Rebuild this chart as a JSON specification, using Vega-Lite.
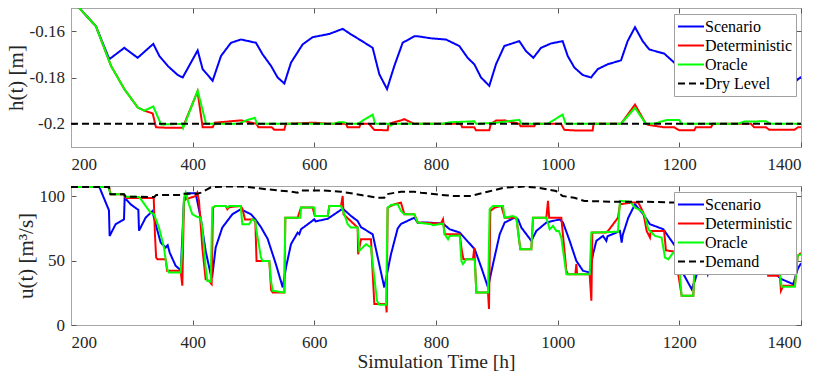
{
  "$schema": "https://vega.github.io/schema/vega-lite/v6.json",
  "padding": {"left": 4, "top": -5, "right": 0, "bottom": 0},
  "bounds": "flush",
  "spacing": 39,
  "background": "white",
  "config": {
    "view": {"stroke": "#a6a6a6", "strokeWidth": 1},
    "font": "Liberation Serif",
    "axis": {"labelFont": "Liberation Serif", "labelFontSize": 17, "labelColor": "#262626", "titleFont": "Liberation Serif", "titleFontWeight": "normal", "titleColor": "#262626", "domainColor": "#a6a6a6", "tickColor": "#595959", "tickSize": -5, "grid": false, "format": "d"},
    "axisX": {"labelPadding": 14.4, "titleFontSize": 19.5, "titlePadding": 2},
    "axisY": {"labelPadding": 11.5, "titleFontSize": 21, "titlePadding": 3},
    "axisTop": {"labelPadding": 0, "labelFontSize": 0, "minExtent": 0, "maxExtent": 0},
    "axisRight": {"labelPadding": 0, "labelFontSize": 0, "minExtent": 0, "maxExtent": 0},
    "legend": {"orient": "none", "title": null, "labelFont": "Liberation Serif", "labelFontSize": 16, "labelColor": "#000000", "symbolType": "stroke", "symbolSize": 676, "symbolStrokeWidth": 2, "clipHeight": 19, "rowPadding": 0, "padding": 3, "labelOffset": 0, "strokeColor": "#a0a0a0", "fillColor": "#ffffff"}
  },
  "resolve": {"scale": {"color": "independent", "strokeDash": "independent"}},
  "datasets": {
    "h": [
      {"s":"Scenario","t":200,"v":-0.146},{"s":"Scenario","t":213.7,"v":-0.15},{"s":"Scenario","t":241,"v":-0.1579},{"s":"Scenario","t":263,"v":-0.1721},{"s":"Scenario","t":287.6,"v":-0.1672},{"s":"Scenario","t":309.6,"v":-0.1715},{"s":"Scenario","t":335.3,"v":-0.1655},{"s":"Scenario","t":345.2,"v":-0.1707},{"s":"Scenario","t":359,"v":-0.175},{"s":"Scenario","t":375.3,"v":-0.1789},{"s":"Scenario","t":383.6,"v":-0.18},{"s":"Scenario","t":408.2,"v":-0.1683},{"s":"Scenario","t":416.4,"v":-0.1764},{"s":"Scenario","t":432.8,"v":-0.1814},{"s":"Scenario","t":446.6,"v":-0.1707},{"s":"Scenario","t":463,"v":-0.165},{"s":"Scenario","t":479.4,"v":-0.1636},{"s":"Scenario","t":504,"v":-0.165},{"s":"Scenario","t":515,"v":-0.17},{"s":"Scenario","t":528.8,"v":-0.175},{"s":"Scenario","t":539.7,"v":-0.18},{"s":"Scenario","t":550.7,"v":-0.1826},{"s":"Scenario","t":561.6,"v":-0.1736},{"s":"Scenario","t":580.8,"v":-0.1657},{"s":"Scenario","t":597.2,"v":-0.1626},{"s":"Scenario","t":624.6,"v":-0.1612},{"s":"Scenario","t":646.6,"v":-0.159},{"s":"Scenario","t":660.3,"v":-0.1614},{"s":"Scenario","t":676.7,"v":-0.164},{"s":"Scenario","t":695.9,"v":-0.1672},{"s":"Scenario","t":706.8,"v":-0.1786},{"s":"Scenario","t":719.5,"v":-0.185},{"s":"Scenario","t":731.5,"v":-0.175},{"s":"Scenario","t":745.2,"v":-0.165},{"s":"Scenario","t":764.3,"v":-0.1622},{"s":"Scenario","t":769.9,"v":-0.1622},{"s":"Scenario","t":791.8,"v":-0.1631},{"s":"Scenario","t":816.4,"v":-0.1636},{"s":"Scenario","t":838.3,"v":-0.1664},{"s":"Scenario","t":852,"v":-0.1715},{"s":"Scenario","t":863,"v":-0.1743},{"s":"Scenario","t":874,"v":-0.18},{"s":"Scenario","t":887.6,"v":-0.1836},{"s":"Scenario","t":898.6,"v":-0.1743},{"s":"Scenario","t":912.3,"v":-0.1664},{"s":"Scenario","t":936.9,"v":-0.1643},{"s":"Scenario","t":947.9,"v":-0.1686},{"s":"Scenario","t":960,"v":-0.1715},{"s":"Scenario","t":972.6,"v":-0.1672},{"s":"Scenario","t":989,"v":-0.1653},{"s":"Scenario","t":1008.2,"v":-0.1643},{"s":"Scenario","t":1016.5,"v":-0.1707},{"s":"Scenario","t":1027.4,"v":-0.1757},{"s":"Scenario","t":1041.1,"v":-0.1789},{"s":"Scenario","t":1054.8,"v":-0.18},{"s":"Scenario","t":1065.8,"v":-0.1764},{"s":"Scenario","t":1082.2,"v":-0.1743},{"s":"Scenario","t":1104.1,"v":-0.1726},{"s":"Scenario","t":1115,"v":-0.1643},{"s":"Scenario","t":1127.1,"v":-0.1583},{"s":"Scenario","t":1139.7,"v":-0.1643},{"s":"Scenario","t":1150.6,"v":-0.1679},{"s":"Scenario","t":1175.3,"v":-0.1697},{"s":"Scenario","t":1191.7,"v":-0.1736},{"s":"Scenario","t":1215,"v":-0.178},{"s":"Scenario","t":1240,"v":-0.17},{"s":"Scenario","t":1270,"v":-0.166},{"s":"Scenario","t":1300,"v":-0.172},{"s":"Scenario","t":1330,"v":-0.168},{"s":"Scenario","t":1360,"v":-0.176},{"s":"Scenario","t":1389,"v":-0.1822},{"s":"Scenario","t":1400,"v":-0.1797},
      {"s":"Deterministic","t":200,"v":-0.146},{"s":"Deterministic","t":213.7,"v":-0.15},{"s":"Deterministic","t":241,"v":-0.1579},{"s":"Deterministic","t":265.8,"v":-0.175},{"s":"Deterministic","t":287.7,"v":-0.185},{"s":"Deterministic","t":309.6,"v":-0.1929},{"s":"Deterministic","t":320.5,"v":-0.1943},{"s":"Deterministic","t":334.3,"v":-0.1955},{"s":"Deterministic","t":339.7,"v":-0.2015},{"s":"Deterministic","t":359,"v":-0.2017},{"s":"Deterministic","t":383.6,"v":-0.2017},{"s":"Deterministic","t":408,"v":-0.186},{"s":"Deterministic","t":416.4,"v":-0.2015},{"s":"Deterministic","t":433,"v":-0.2015},{"s":"Deterministic","t":436,"v":-0.1995},{"s":"Deterministic","t":480,"v":-0.1985},{"s":"Deterministic","t":505,"v":-0.2},{"s":"Deterministic","t":508,"v":-0.2015},{"s":"Deterministic","t":530,"v":-0.2015},{"s":"Deterministic","t":534.2,"v":-0.2026},{"s":"Deterministic","t":550.7,"v":-0.2026},{"s":"Deterministic","t":553,"v":-0.2},{"s":"Deterministic","t":580,"v":-0.1997},{"s":"Deterministic","t":600,"v":-0.1995},{"s":"Deterministic","t":624,"v":-0.2},{"s":"Deterministic","t":652,"v":-0.2},{"s":"Deterministic","t":654.7,"v":-0.2015},{"s":"Deterministic","t":673.9,"v":-0.2015},{"s":"Deterministic","t":676,"v":-0.2},{"s":"Deterministic","t":690,"v":-0.2},{"s":"Deterministic","t":698.6,"v":-0.2026},{"s":"Deterministic","t":720.6,"v":-0.2028},{"s":"Deterministic","t":722,"v":-0.2},{"s":"Deterministic","t":742.5,"v":-0.1985},{"s":"Deterministic","t":748,"v":-0.198},{"s":"Deterministic","t":764,"v":-0.2},{"s":"Deterministic","t":841,"v":-0.2},{"s":"Deterministic","t":843,"v":-0.2015},{"s":"Deterministic","t":863,"v":-0.2015},{"s":"Deterministic","t":865.7,"v":-0.2028},{"s":"Deterministic","t":887.6,"v":-0.2028},{"s":"Deterministic","t":890,"v":-0.2},{"s":"Deterministic","t":898.6,"v":-0.1986},{"s":"Deterministic","t":912,"v":-0.1985},{"s":"Deterministic","t":937,"v":-0.2},{"s":"Deterministic","t":939,"v":-0.201},{"s":"Deterministic","t":961.6,"v":-0.201},{"s":"Deterministic","t":964,"v":-0.2},{"s":"Deterministic","t":1005.5,"v":-0.2},{"s":"Deterministic","t":1011,"v":-0.2026},{"s":"Deterministic","t":1032.8,"v":-0.2029},{"s":"Deterministic","t":1057.5,"v":-0.2029},{"s":"Deterministic","t":1059,"v":-0.2},{"s":"Deterministic","t":1104.1,"v":-0.2},{"s":"Deterministic","t":1127.1,"v":-0.1917},{"s":"Deterministic","t":1145,"v":-0.2},{"s":"Deterministic","t":1150,"v":-0.2005},{"s":"Deterministic","t":1175.3,"v":-0.2015},{"s":"Deterministic","t":1191.7,"v":-0.2015},{"s":"Deterministic","t":1200,"v":-0.2028},{"s":"Deterministic","t":1224.6,"v":-0.2028},{"s":"Deterministic","t":1227,"v":-0.2015},{"s":"Deterministic","t":1252,"v":-0.2015},{"s":"Deterministic","t":1255,"v":-0.2},{"s":"Deterministic","t":1317.8,"v":-0.2},{"s":"Deterministic","t":1323,"v":-0.2015},{"s":"Deterministic","t":1342.5,"v":-0.2015},{"s":"Deterministic","t":1348,"v":-0.2026},{"s":"Deterministic","t":1389,"v":-0.2026},{"s":"Deterministic","t":1395,"v":-0.2015},{"s":"Deterministic","t":1400,"v":-0.2015},
      {"s":"Oracle","t":200,"v":-0.146},{"s":"Oracle","t":213.7,"v":-0.15},{"s":"Oracle","t":241,"v":-0.1579},{"s":"Oracle","t":265.8,"v":-0.175},{"s":"Oracle","t":287.7,"v":-0.185},{"s":"Oracle","t":309.6,"v":-0.1929},{"s":"Oracle","t":320.5,"v":-0.1943},{"s":"Oracle","t":335.3,"v":-0.1925},{"s":"Oracle","t":348,"v":-0.2003},{"s":"Oracle","t":383,"v":-0.2},{"s":"Oracle","t":384.5,"v":-0.2017},{"s":"Oracle","t":408.3,"v":-0.1857},{"s":"Oracle","t":422,"v":-0.2},{"s":"Oracle","t":476,"v":-0.2},{"s":"Oracle","t":488,"v":-0.1985},{"s":"Oracle","t":502,"v":-0.1974},{"s":"Oracle","t":506,"v":-0.2},{"s":"Oracle","t":632,"v":-0.2},{"s":"Oracle","t":640,"v":-0.1993},{"s":"Oracle","t":649,"v":-0.1993},{"s":"Oracle","t":655,"v":-0.2},{"s":"Oracle","t":672,"v":-0.2},{"s":"Oracle","t":680,"v":-0.1985},{"s":"Oracle","t":695.9,"v":-0.196},{"s":"Oracle","t":700,"v":-0.2},{"s":"Oracle","t":722,"v":-0.2},{"s":"Oracle","t":725,"v":-0.2008},{"s":"Oracle","t":730,"v":-0.2},{"s":"Oracle","t":810,"v":-0.2},{"s":"Oracle","t":824.6,"v":-0.1993},{"s":"Oracle","t":863,"v":-0.1989},{"s":"Oracle","t":866,"v":-0.2},{"s":"Oracle","t":900,"v":-0.1995},{"s":"Oracle","t":920,"v":-0.1988},{"s":"Oracle","t":936.9,"v":-0.1983},{"s":"Oracle","t":940,"v":-0.2},{"s":"Oracle","t":983.5,"v":-0.2},{"s":"Oracle","t":1008.2,"v":-0.196},{"s":"Oracle","t":1013,"v":-0.2},{"s":"Oracle","t":1104,"v":-0.2},{"s":"Oracle","t":1127.1,"v":-0.1931},{"s":"Oracle","t":1145,"v":-0.2},{"s":"Oracle","t":1160,"v":-0.1998},{"s":"Oracle","t":1180,"v":-0.1983},{"s":"Oracle","t":1200,"v":-0.1983},{"s":"Oracle","t":1203,"v":-0.2},{"s":"Oracle","t":1296,"v":-0.2},{"s":"Oracle","t":1306.8,"v":-0.199},{"s":"Oracle","t":1342.5,"v":-0.1989},{"s":"Oracle","t":1350,"v":-0.2},{"s":"Oracle","t":1400,"v":-0.2},
      {"s":"Dry Level","t":200,"v":-0.2},{"s":"Dry Level","t":1400,"v":-0.2}
    ],
    "u": [
      {"s":"Scenario","t":200,"v":107.2},{"s":"Scenario","t":246.6,"v":107.2},{"s":"Scenario","t":262.4,"v":89.1},{"s":"Scenario","t":263.5,"v":69.2},{"s":"Scenario","t":273.4,"v":78.3},{"s":"Scenario","t":287.1,"v":82.1},{"s":"Scenario","t":288.2,"v":98.9},{"s":"Scenario","t":298,"v":93.8},{"s":"Scenario","t":310.7,"v":89.4},{"s":"Scenario","t":311.8,"v":73.3},{"s":"Scenario","t":322.7,"v":83.4},{"s":"Scenario","t":333.7,"v":88.5},{"s":"Scenario","t":339.2,"v":78.3},{"s":"Scenario","t":347.4,"v":64.1},{"s":"Scenario","t":355.6,"v":60.2},{"s":"Scenario","t":359,"v":62},{"s":"Scenario","t":362.2,"v":56.3},{"s":"Scenario","t":372,"v":46},{"s":"Scenario","t":380.5,"v":42.6},{"s":"Scenario","t":385.7,"v":96.4},{"s":"Scenario","t":391.2,"v":102.4},{"s":"Scenario","t":404.9,"v":102.4},{"s":"Scenario","t":413.1,"v":83.4},{"s":"Scenario","t":421.3,"v":57.6},{"s":"Scenario","t":429.6,"v":39.5},{"s":"Scenario","t":432.3,"v":38.2},{"s":"Scenario","t":437.8,"v":60.2},{"s":"Scenario","t":448.7,"v":75.7},{"s":"Scenario","t":465.2,"v":86},{"s":"Scenario","t":478.9,"v":89.9},{"s":"Scenario","t":496,"v":86},{"s":"Scenario","t":504,"v":81.5},{"s":"Scenario","t":512.3,"v":76},{"s":"Scenario","t":523.2,"v":67},{"s":"Scenario","t":537,"v":47},{"s":"Scenario","t":548,"v":29.2},{"s":"Scenario","t":553.4,"v":44.7},{"s":"Scenario","t":561.6,"v":62.8},{"s":"Scenario","t":572.6,"v":71.8},{"s":"Scenario","t":575.3,"v":70.5},{"s":"Scenario","t":578.1,"v":74.4},{"s":"Scenario","t":600,"v":82.1},{"s":"Scenario","t":602,"v":80.5},{"s":"Scenario","t":621.9,"v":82.5},{"s":"Scenario","t":643.8,"v":89.5},{"s":"Scenario","t":648,"v":89.9},{"s":"Scenario","t":660.3,"v":84.7},{"s":"Scenario","t":671.2,"v":80.8},{"s":"Scenario","t":676.7,"v":76},{"s":"Scenario","t":695.9,"v":70.5},{"s":"Scenario","t":715,"v":29.2},{"s":"Scenario","t":726,"v":55},{"s":"Scenario","t":737,"v":75},{"s":"Scenario","t":742.4,"v":78.5},{"s":"Scenario","t":764.4,"v":83.4},{"s":"Scenario","t":769.9,"v":79.5},{"s":"Scenario","t":786.3,"v":79.6},{"s":"Scenario","t":811.5,"v":78.8},{"s":"Scenario","t":822.5,"v":74.4},{"s":"Scenario","t":839,"v":71.8},{"s":"Scenario","t":863.6,"v":58.9},{"s":"Scenario","t":874.5,"v":44.7},{"s":"Scenario","t":882.8,"v":33},{"s":"Scenario","t":885.5,"v":29.2},{"s":"Scenario","t":893.7,"v":47.3},{"s":"Scenario","t":904.7,"v":70.5},{"s":"Scenario","t":912.9,"v":79.6},{"s":"Scenario","t":929.3,"v":83.4},{"s":"Scenario","t":935,"v":82},{"s":"Scenario","t":940.3,"v":75.7},{"s":"Scenario","t":956.7,"v":65.4},{"s":"Scenario","t":965,"v":73.1},{"s":"Scenario","t":981.4,"v":79.6},{"s":"Scenario","t":1003.3,"v":82.1},{"s":"Scenario","t":1008.8,"v":79.6},{"s":"Scenario","t":1019.7,"v":65.4},{"s":"Scenario","t":1030.7,"v":49.8},{"s":"Scenario","t":1041.7,"v":42.1},{"s":"Scenario","t":1052.6,"v":40.8},{"s":"Scenario","t":1058.1,"v":55},{"s":"Scenario","t":1063.6,"v":65.4},{"s":"Scenario","t":1074.5,"v":69.2},{"s":"Scenario","t":1080,"v":65.4},{"s":"Scenario","t":1082,"v":69},{"s":"Scenario","t":1096.5,"v":71.8},{"s":"Scenario","t":1102.4,"v":73.1},{"s":"Scenario","t":1105.2,"v":64.1},{"s":"Scenario","t":1107,"v":70},{"s":"Scenario","t":1116.1,"v":83.4},{"s":"Scenario","t":1127.1,"v":93.8},{"s":"Scenario","t":1140.8,"v":86},{"s":"Scenario","t":1151.7,"v":78.3},{"s":"Scenario","t":1173.7,"v":74.4},{"s":"Scenario","t":1192.8,"v":61.5},{"s":"Scenario","t":1203.8,"v":42.1},{"s":"Scenario","t":1220.2,"v":27.9},{"s":"Scenario","t":1226,"v":35},{"s":"Scenario","t":1236,"v":52},{"s":"Scenario","t":1246.5,"v":39.5},{"s":"Scenario","t":1252,"v":52},{"s":"Scenario","t":1290,"v":70},{"s":"Scenario","t":1330,"v":62},{"s":"Scenario","t":1352,"v":42.1},{"s":"Scenario","t":1368.2,"v":35.6},{"s":"Scenario","t":1387.3,"v":31.7},{"s":"Scenario","t":1394.5,"v":43.4},{"s":"Scenario","t":1400,"v":48},
      {"s":"Deterministic","t":200,"v":107.2},{"s":"Deterministic","t":262.5,"v":107.2},{"s":"Deterministic","t":265,"v":101.5},{"s":"Deterministic","t":287,"v":101.5},{"s":"Deterministic","t":290,"v":98.6},{"s":"Deterministic","t":336,"v":98.6},{"s":"Deterministic","t":338,"v":70},{"s":"Deterministic","t":340,"v":52.4},{"s":"Deterministic","t":342,"v":51.1},{"s":"Deterministic","t":355.6,"v":51.1},{"s":"Deterministic","t":358,"v":42.1},{"s":"Deterministic","t":380.3,"v":42.1},{"s":"Deterministic","t":383,"v":30.5},{"s":"Deterministic","t":385.7,"v":96.4},{"s":"Deterministic","t":388.5,"v":97.6},{"s":"Deterministic","t":404.9,"v":100.2},{"s":"Deterministic","t":407.6,"v":102.8},{"s":"Deterministic","t":410.4,"v":96.4},{"s":"Deterministic","t":415.9,"v":60.2},{"s":"Deterministic","t":421.3,"v":35.6},{"s":"Deterministic","t":426.8,"v":34.3},{"s":"Deterministic","t":431.2,"v":31.8},{"s":"Deterministic","t":433.4,"v":91.2},{"s":"Deterministic","t":437.8,"v":92.5},{"s":"Deterministic","t":454.2,"v":92.5},{"s":"Deterministic","t":457,"v":89.9},{"s":"Deterministic","t":460,"v":91.5},{"s":"Deterministic","t":478.9,"v":92.5},{"s":"Deterministic","t":482,"v":90},{"s":"Deterministic","t":486,"v":82},{"s":"Deterministic","t":500,"v":82},{"s":"Deterministic","t":503,"v":80},{"s":"Deterministic","t":505,"v":49.8},{"s":"Deterministic","t":526,"v":49.8},{"s":"Deterministic","t":529,"v":27},{"s":"Deterministic","t":531.5,"v":25.3},{"s":"Deterministic","t":550.7,"v":25.3},{"s":"Deterministic","t":552.3,"v":83.4},{"s":"Deterministic","t":572.6,"v":83.4},{"s":"Deterministic","t":578.1,"v":91.2},{"s":"Deterministic","t":597.3,"v":91.2},{"s":"Deterministic","t":600,"v":86},{"s":"Deterministic","t":601,"v":84.7},{"s":"Deterministic","t":622,"v":84.7},{"s":"Deterministic","t":624.7,"v":92.5},{"s":"Deterministic","t":643.8,"v":92.5},{"s":"Deterministic","t":646.6,"v":100.2},{"s":"Deterministic","t":648,"v":86},{"s":"Deterministic","t":671.2,"v":75.7},{"s":"Deterministic","t":672,"v":55},{"s":"Deterministic","t":676.7,"v":66.6},{"s":"Deterministic","t":693.1,"v":66.6},{"s":"Deterministic","t":698.6,"v":16.3},{"s":"Deterministic","t":717.8,"v":16.3},{"s":"Deterministic","t":718.9,"v":9.8},{"s":"Deterministic","t":720.5,"v":91.2},{"s":"Deterministic","t":731.5,"v":93.8},{"s":"Deterministic","t":742.4,"v":95.1},{"s":"Deterministic","t":748,"v":86},{"s":"Deterministic","t":764.4,"v":86},{"s":"Deterministic","t":769.9,"v":79.6},{"s":"Deterministic","t":808.2,"v":78.8},{"s":"Deterministic","t":811.5,"v":82.1},{"s":"Deterministic","t":814.3,"v":70.5},{"s":"Deterministic","t":839,"v":70.5},{"s":"Deterministic","t":841.7,"v":60},{"s":"Deterministic","t":845,"v":51.1},{"s":"Deterministic","t":860.8,"v":51.1},{"s":"Deterministic","t":863,"v":60},{"s":"Deterministic","t":866.3,"v":25.3},{"s":"Deterministic","t":885.5,"v":25.3},{"s":"Deterministic","t":887.1,"v":12.4},{"s":"Deterministic","t":889.3,"v":88.6},{"s":"Deterministic","t":896.5,"v":91.2},{"s":"Deterministic","t":907.4,"v":92.5},{"s":"Deterministic","t":912.9,"v":83.4},{"s":"Deterministic","t":932.1,"v":83.4},{"s":"Deterministic","t":938.6,"v":58.9},{"s":"Deterministic","t":956.7,"v":58.9},{"s":"Deterministic","t":959.5,"v":83.4},{"s":"Deterministic","t":981.4,"v":83.4},{"s":"Deterministic","t":984.1,"v":96.4},{"s":"Deterministic","t":986,"v":83.4},{"s":"Deterministic","t":1006,"v":83.4},{"s":"Deterministic","t":1014.3,"v":42.1},{"s":"Deterministic","t":1017,"v":39.5},{"s":"Deterministic","t":1029,"v":39.5},{"s":"Deterministic","t":1030.7,"v":47.3},{"s":"Deterministic","t":1032,"v":39.5},{"s":"Deterministic","t":1052.6,"v":39.5},{"s":"Deterministic","t":1055.4,"v":18.8},{"s":"Deterministic","t":1057,"v":71.8},{"s":"Deterministic","t":1080,"v":71.8},{"s":"Deterministic","t":1085,"v":74.4},{"s":"Deterministic","t":1099.2,"v":83.4},{"s":"Deterministic","t":1102.4,"v":93.8},{"s":"Deterministic","t":1121.6,"v":95.1},{"s":"Deterministic","t":1132.6,"v":95.1},{"s":"Deterministic","t":1140.8,"v":87.3},{"s":"Deterministic","t":1146.3,"v":73.1},{"s":"Deterministic","t":1151.7,"v":68},{"s":"Deterministic","t":1153,"v":73},{"s":"Deterministic","t":1175,"v":73},{"s":"Deterministic","t":1178,"v":58},{"s":"Deterministic","t":1192,"v":57},{"s":"Deterministic","t":1200,"v":34.3},{"s":"Deterministic","t":1203.8,"v":22.7},{"s":"Deterministic","t":1223,"v":22.7},{"s":"Deterministic","t":1226,"v":60},{"s":"Deterministic","t":1260,"v":60},{"s":"Deterministic","t":1300,"v":75},{"s":"Deterministic","t":1340,"v":60},{"s":"Deterministic","t":1346,"v":38.2},{"s":"Deterministic","t":1365.4,"v":38.2},{"s":"Deterministic","t":1367,"v":26.6},{"s":"Deterministic","t":1370.9,"v":30.5},{"s":"Deterministic","t":1390,"v":30.5},{"s":"Deterministic","t":1394.5,"v":53.7},{"s":"Deterministic","t":1400,"v":56},
      {"s":"Oracle","t":200,"v":107.2},{"s":"Oracle","t":261.4,"v":107.2},{"s":"Oracle","t":265.2,"v":101.5},{"s":"Oracle","t":287.1,"v":101.5},{"s":"Oracle","t":289.8,"v":99.7},{"s":"Oracle","t":311.8,"v":99.5},{"s":"Oracle","t":316,"v":97},{"s":"Oracle","t":322.7,"v":92.5},{"s":"Oracle","t":330.9,"v":87.3},{"s":"Oracle","t":336.4,"v":86},{"s":"Oracle","t":344.6,"v":75.7},{"s":"Oracle","t":352.9,"v":60.2},{"s":"Oracle","t":355.6,"v":50.4},{"s":"Oracle","t":358.3,"v":43.4},{"s":"Oracle","t":361.1,"v":40.8},{"s":"Oracle","t":380.2,"v":40.8},{"s":"Oracle","t":383,"v":60},{"s":"Oracle","t":385.7,"v":98.9},{"s":"Oracle","t":388.5,"v":102.8},{"s":"Oracle","t":393.9,"v":93.8},{"s":"Oracle","t":399.4,"v":86},{"s":"Oracle","t":407.6,"v":84},{"s":"Oracle","t":413.1,"v":83.4},{"s":"Oracle","t":416,"v":75},{"s":"Oracle","t":421.3,"v":44.7},{"s":"Oracle","t":424.1,"v":34.3},{"s":"Oracle","t":429.6,"v":33.6},{"s":"Oracle","t":432.3,"v":91.2},{"s":"Oracle","t":437,"v":92.5},{"s":"Oracle","t":454,"v":92.5},{"s":"Oracle","t":457,"v":91.2},{"s":"Oracle","t":460,"v":92.5},{"s":"Oracle","t":478.9,"v":92.5},{"s":"Oracle","t":481.6,"v":78.3},{"s":"Oracle","t":492.6,"v":78.3},{"s":"Oracle","t":498,"v":82.1},{"s":"Oracle","t":503,"v":81},{"s":"Oracle","t":504.1,"v":75.7},{"s":"Oracle","t":512.3,"v":52.4},{"s":"Oracle","t":515.1,"v":49.8},{"s":"Oracle","t":526,"v":49.8},{"s":"Oracle","t":528.8,"v":34.3},{"s":"Oracle","t":531.5,"v":26.6},{"s":"Oracle","t":550.7,"v":25.3},{"s":"Oracle","t":552.3,"v":83.4},{"s":"Oracle","t":577,"v":83.4},{"s":"Oracle","t":578.1,"v":91.2},{"s":"Oracle","t":600,"v":91.2},{"s":"Oracle","t":601,"v":84.7},{"s":"Oracle","t":622,"v":84.7},{"s":"Oracle","t":624.7,"v":92.5},{"s":"Oracle","t":643.8,"v":92.5},{"s":"Oracle","t":649.3,"v":86},{"s":"Oracle","t":654.8,"v":78.3},{"s":"Oracle","t":660,"v":75.7},{"s":"Oracle","t":671.2,"v":75.7},{"s":"Oracle","t":674,"v":57.6},{"s":"Oracle","t":679.5,"v":60.2},{"s":"Oracle","t":685,"v":62.8},{"s":"Oracle","t":693.1,"v":60.2},{"s":"Oracle","t":698.6,"v":36.9},{"s":"Oracle","t":703,"v":18.8},{"s":"Oracle","t":706.8,"v":15.7},{"s":"Oracle","t":717.8,"v":15.7},{"s":"Oracle","t":720.5,"v":91.2},{"s":"Oracle","t":726,"v":93.3},{"s":"Oracle","t":737,"v":93.8},{"s":"Oracle","t":742.4,"v":88.6},{"s":"Oracle","t":748,"v":86},{"s":"Oracle","t":764.4,"v":86},{"s":"Oracle","t":769.9,"v":79.6},{"s":"Oracle","t":791.8,"v":78.3},{"s":"Oracle","t":795,"v":77.5},{"s":"Oracle","t":811.5,"v":78.8},{"s":"Oracle","t":814.3,"v":70.5},{"s":"Oracle","t":819.8,"v":66.6},{"s":"Oracle","t":822.5,"v":69.2},{"s":"Oracle","t":839,"v":69.5},{"s":"Oracle","t":841.7,"v":49.8},{"s":"Oracle","t":844.4,"v":47.3},{"s":"Oracle","t":849.9,"v":51.1},{"s":"Oracle","t":863.6,"v":51.1},{"s":"Oracle","t":866.3,"v":25.3},{"s":"Oracle","t":885.5,"v":25.3},{"s":"Oracle","t":888.2,"v":89.9},{"s":"Oracle","t":893.7,"v":92.5},{"s":"Oracle","t":910.2,"v":92.5},{"s":"Oracle","t":912.9,"v":83.4},{"s":"Oracle","t":926.6,"v":84.7},{"s":"Oracle","t":932,"v":83.4},{"s":"Oracle","t":938.6,"v":58.9},{"s":"Oracle","t":956.7,"v":58.9},{"s":"Oracle","t":959.5,"v":83.4},{"s":"Oracle","t":981.4,"v":83.4},{"s":"Oracle","t":986.9,"v":74.4},{"s":"Oracle","t":992.3,"v":77},{"s":"Oracle","t":997.8,"v":73.1},{"s":"Oracle","t":1002,"v":73},{"s":"Oracle","t":1006,"v":67.9},{"s":"Oracle","t":1014.3,"v":39.5},{"s":"Oracle","t":1052.6,"v":39.5},{"s":"Oracle","t":1055.4,"v":71.8},{"s":"Oracle","t":1099.2,"v":72.5},{"s":"Oracle","t":1102.4,"v":96.4},{"s":"Oracle","t":1118.9,"v":95.8},{"s":"Oracle","t":1127.1,"v":91.2},{"s":"Oracle","t":1138,"v":88.6},{"s":"Oracle","t":1143.5,"v":84.7},{"s":"Oracle","t":1149,"v":74.4},{"s":"Oracle","t":1151.7,"v":73.1},{"s":"Oracle","t":1160,"v":69.2},{"s":"Oracle","t":1170.9,"v":67.9},{"s":"Oracle","t":1176.4,"v":52.4},{"s":"Oracle","t":1181.9,"v":51.1},{"s":"Oracle","t":1190.1,"v":56.3},{"s":"Oracle","t":1198,"v":55},{"s":"Oracle","t":1201,"v":38.2},{"s":"Oracle","t":1203.8,"v":22.7},{"s":"Oracle","t":1223,"v":22.7},{"s":"Oracle","t":1226,"v":60},{"s":"Oracle","t":1260,"v":62},{"s":"Oracle","t":1300,"v":75},{"s":"Oracle","t":1340,"v":62},{"s":"Oracle","t":1346.2,"v":40.8},{"s":"Oracle","t":1365.4,"v":39.5},{"s":"Oracle","t":1368.2,"v":29.7},{"s":"Oracle","t":1390,"v":29.7},{"s":"Oracle","t":1394.5,"v":53.7},{"s":"Oracle","t":1400,"v":55},
      {"s":"Demand","t":200,"v":107.2},{"s":"Demand","t":262.5,"v":107.2},{"s":"Demand","t":265,"v":101.5},{"s":"Demand","t":287,"v":101.5},{"s":"Demand","t":290,"v":99.7},{"s":"Demand","t":337,"v":99.5},{"s":"Demand","t":340,"v":101},{"s":"Demand","t":381,"v":101},{"s":"Demand","t":383,"v":102},{"s":"Demand","t":408,"v":102},{"s":"Demand","t":413.7,"v":102.8},{"s":"Demand","t":430,"v":107},{"s":"Demand","t":457.5,"v":107.6},{"s":"Demand","t":480,"v":107.6},{"s":"Demand","t":501.3,"v":106.7},{"s":"Demand","t":523,"v":105.4},{"s":"Demand","t":561.6,"v":103.6},{"s":"Demand","t":572.5,"v":102.8},{"s":"Demand","t":578,"v":104.6},{"s":"Demand","t":611,"v":104.6},{"s":"Demand","t":643.8,"v":103.6},{"s":"Demand","t":654.7,"v":102.8},{"s":"Demand","t":676.6,"v":101},{"s":"Demand","t":704,"v":98.9},{"s":"Demand","t":715,"v":98.9},{"s":"Demand","t":717.8,"v":101.5},{"s":"Demand","t":742.4,"v":103.6},{"s":"Demand","t":764.3,"v":103.6},{"s":"Demand","t":775.3,"v":102.8},{"s":"Demand","t":800,"v":101.5},{"s":"Demand","t":830,"v":100.2},{"s":"Demand","t":857.5,"v":100.2},{"s":"Demand","t":885,"v":103.6},{"s":"Demand","t":912.3,"v":106.7},{"s":"Demand","t":945.2,"v":107.6},{"s":"Demand","t":967.1,"v":106.7},{"s":"Demand","t":997.2,"v":104.1},{"s":"Demand","t":1008.2,"v":100.2},{"s":"Demand","t":1027.4,"v":98.9},{"s":"Demand","t":1043.8,"v":96.4},{"s":"Demand","t":1087.6,"v":95.8},{"s":"Demand","t":1142.4,"v":95.8},{"s":"Demand","t":1191.7,"v":95.1},{"s":"Demand","t":1250,"v":95},{"s":"Demand","t":1300,"v":96},{"s":"Demand","t":1350,"v":97},{"s":"Demand","t":1400,"v":97.6}
    ]
  },
  "vconcat": [
    {
      "width": 730,
      "height": 139,
      "data": {"name": "h"},
      "resolve": {"axis": {"x": "independent", "y": "independent"}},
      "layer": [
        {
          "mark": {"type": "line", "strokeWidth": 2, "clip": true},
          "encoding": {
            "x": {"field": "t", "type": "quantitative", "scale": {"domain": [200, 1400], "nice": false, "zero": false}, "axis": {"values": [200, 400, 600, 800, 1000, 1200, 1400], "title": null, "format": "d", "labelFont": "Liberation Serif"}},
            "y": {"field": "v", "type": "quantitative", "scale": {"domain": [-0.21, -0.15], "nice": false, "zero": false}, "axis": {"values": [-0.2, -0.18, -0.16], "title": "h(t) [m]", "labelFont": "Liberation Serif", "labelExpr": "datum.value < -0.19 ? '-0.2' : datum.value < -0.17 ? '-0.18' : '-0.16'"}},
            "color": {"field": "s", "type": "nominal", "scale": {"domain": ["Scenario", "Deterministic", "Oracle", "Dry Level"], "range": ["#0000ff", "#ff0000", "#00ff00", "#000000"]}, "legend": {"orient": "none", "legendX": 603, "legendY": 6, "title": null, "labelFont": "Liberation Serif"}},
            "strokeDash": {"field": "s", "type": "nominal", "scale": {"domain": ["Scenario", "Deterministic", "Oracle", "Dry Level"], "range": [[1, 0], [1, 0], [1, 0], [7, 4]]}, "legend": {"orient": "none", "legendX": 603, "legendY": 6, "title": null, "labelFont": "Liberation Serif"}}
          }
        },
        {
          "mark": {"type": "point", "opacity": 0},
          "encoding": {
            "x": {"field": "t", "type": "quantitative", "axis": {"orient": "top", "values": [200, 400, 600, 800, 1000, 1200, 1400], "labels": false, "domain": false, "title": null}},
            "y": {"field": "v", "type": "quantitative", "axis": {"orient": "right", "values": [-0.2, -0.18, -0.16], "labels": false, "domain": false, "title": null}}
          }
        }
      ]
    },
    {
      "width": 730,
      "height": 139,
      "data": {"name": "u"},
      "resolve": {"axis": {"x": "independent", "y": "independent"}},
      "layer": [
        {
          "mark": {"type": "line", "strokeWidth": 2, "clip": true},
          "encoding": {
            "x": {"field": "t", "type": "quantitative", "scale": {"domain": [200, 1400], "nice": false, "zero": false}, "axis": {"values": [200, 400, 600, 800, 1000, 1200, 1400], "title": "Simulation Time [h]", "format": "d", "labelFont": "Liberation Serif"}},
            "y": {"field": "v", "type": "quantitative", "scale": {"domain": [0, 108], "nice": false}, "axis": {"values": [0, 50, 100], "title": "u(t) [m³/s]", "format": "d", "labelFont": "Liberation Serif"}},
            "color": {"field": "s", "type": "nominal", "scale": {"domain": ["Scenario", "Deterministic", "Oracle", "Demand"], "range": ["#0000ff", "#ff0000", "#00ff00", "#000000"]}, "legend": {"orient": "none", "legendX": 603, "legendY": 6, "title": null, "labelFont": "Liberation Serif"}},
            "strokeDash": {"field": "s", "type": "nominal", "scale": {"domain": ["Scenario", "Deterministic", "Oracle", "Demand"], "range": [[1, 0], [1, 0], [1, 0], [7, 4]]}, "legend": {"orient": "none", "legendX": 603, "legendY": 6, "title": null, "labelFont": "Liberation Serif"}}
          }
        },
        {
          "mark": {"type": "point", "opacity": 0},
          "encoding": {
            "x": {"field": "t", "type": "quantitative", "axis": {"orient": "top", "values": [200, 400, 600, 800, 1000, 1200, 1400], "labels": false, "domain": false, "title": null}},
            "y": {"field": "v", "type": "quantitative", "axis": {"orient": "right", "values": [0, 50, 100], "labels": false, "domain": false, "title": null}}
          }
        }
      ]
    }
  ]
}
